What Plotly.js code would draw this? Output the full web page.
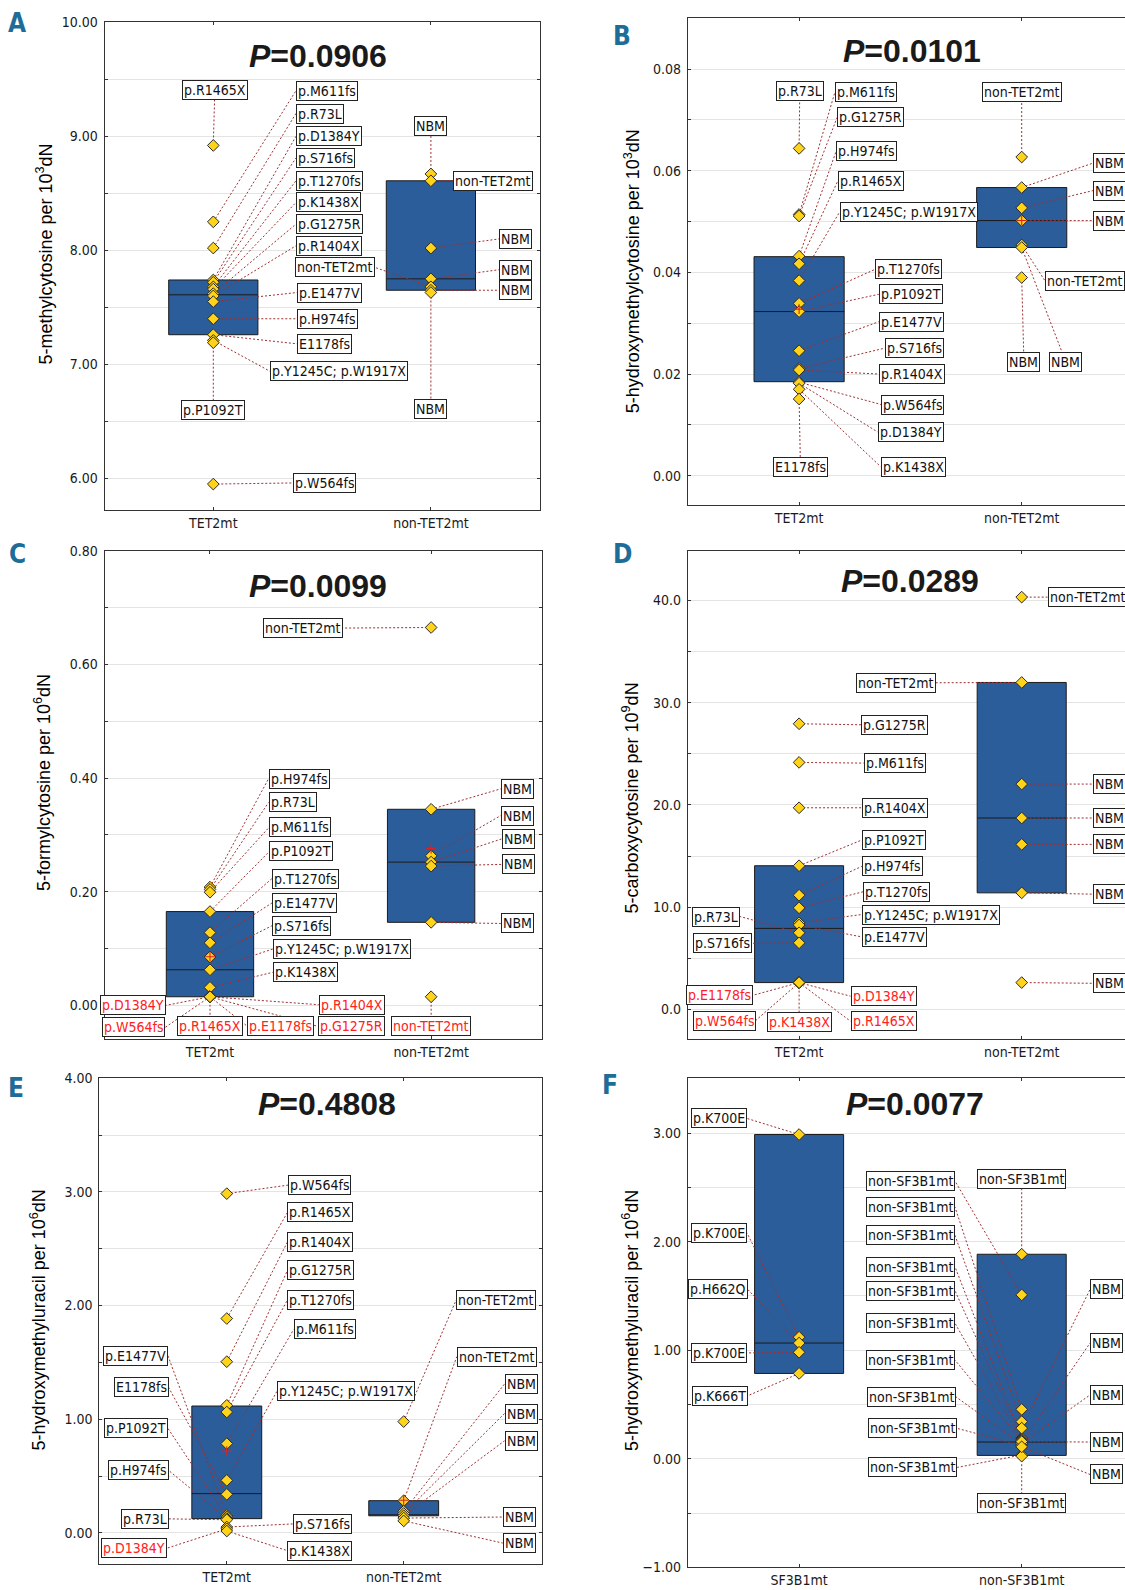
<!DOCTYPE html>
<html><head><meta charset="utf-8">
<script src="https://cdn.plot.ly/plotly-3.0.1.min.js"></script>
<style>html,body{margin:0;padding:0;overflow:hidden;background:#fff;width:1125px;height:1590px}</style>
</head><body><div id="chart" style="width:1150px;height:1590px"></div>
<script>
// ---------------- DATA ----------------
// Panel A: 5-methylcytosine
const A_groups = ['TET2mt', 'non-TET2mt'];
const A_tet_names = ['p.R1465X','p.M611fs','p.R73L','p.D1384Y','p.S716fs','p.T1270fs','p.K1438X','p.G1275R','p.R1404X','p.E1477V','p.H974fs','E1178fs','p.Y1245C; p.W1917X','p.P1092T','p.W564fs'];
const A_tet_vals  = [8.92, 8.25, 8.02, 7.74, 7.72, 7.68, 7.66, 7.62, 7.60, 7.55, 7.40, 7.26, 7.21, 7.19, 5.95];
const A_non_names = ['NBM','non-TET2mt','NBM','NBM','non-TET2mt','NBM','NBM'];
const A_non_vals  = [8.67, 8.61, 8.02, 7.75, 7.68, 7.65, 7.63];
const A_q1 = [7.26, 7.65], A_med = [7.61, 7.75], A_q3 = [7.74, 8.61];
const A_title = 'P=0.0906';

// Panel B: 5-hydroxymethylcytosine
const B_groups = ['TET2mt', 'non-TET2mt'];
const B_tet_names = ['p.R73L','p.M611fs','p.G1275R','p.H974fs','p.R1465X','p.Y1245C; p.W1917X','p.T1270fs','p.P1092T','p.E1477V','p.S716fs','p.R1404X','p.W564fs','p.D1384Y','p.K1438X','E1178fs'];
const B_tet_vals  = [0.0644, 0.0514, 0.0511, 0.0432, 0.0417, 0.0384, 0.0339, 0.0323, 0.0246, 0.0211, 0.0208, 0.0184, 0.0182, 0.0170, 0.0151];
const B_non_names = ['non-TET2mt','NBM','NBM','NBM','non-TET2mt','NBM','NBM'];
const B_non_vals  = [0.0627, 0.0567, 0.0527, 0.0502, 0.0454, 0.0449, 0.0390];
const B_q1 = [0.0185, 0.0449], B_med = [0.0323, 0.0502], B_q3 = [0.0431, 0.0567];
const B_title = 'P=0.0101';

// Panel C: 5-formylcytosine
const C_groups = ['TET2mt', 'non-TET2mt'];
const C_tet_names = ['p.H974fs','p.R73L','p.M611fs','p.P1092T','p.T1270fs','p.E1477V','p.S716fs','p.Y1245C; p.W1917X','p.K1438X','p.D1384Y','p.W564fs','p.R1465X','p.E1178fs','p.G1275R','p.R1404X'];
const C_tet_vals  = [0.208, 0.204, 0.199, 0.165, 0.128, 0.110, 0.085, 0.0625, 0.0315, 0.015, 0.015, 0.015, 0.015, 0.015, 0.015];
const C_non_names = ['non-TET2mt','NBM','NBM','NBM','NBM','NBM','non-TET2mt'];
const C_non_vals  = [0.665, 0.345, 0.263, 0.252, 0.245, 0.146, 0.015];
const C_q1 = [0.015, 0.146], C_med = [0.0625, 0.252], C_q3 = [0.165, 0.345];
const C_title = 'P=0.0099';

// Panel D: 5-carboxycytosine
const D_groups = ['TET2mt', 'non-TET2mt'];
const D_tet_names = ['p.G1275R','p.M611fs','p.R1404X','p.P1092T','p.H974fs','p.T1270fs','p.Y1245C; p.W1917X','p.E1477V','p.R73L','p.S716fs','p.E1178fs','p.W564fs','p.K1438X','p.D1384Y','p.R1465X'];
const D_tet_vals  = [27.94, 24.16, 19.72, 14.05, 11.17, 9.93, 8.46, 8.25, 7.49, 6.51, 2.62, 2.62, 2.62, 2.62, 2.62];
const D_non_names = ['non-TET2mt','non-TET2mt','NBM','NBM','NBM','NBM','NBM'];
const D_non_vals  = [40.33, 31.98, 22.04, 18.72, 16.14, 11.40, 2.62];
const D_q1 = [2.62, 11.40], D_med = [7.92, 18.72], D_q3 = [14.05, 31.98];
const D_title = 'P=0.0289';

// Panel E: 5-hydroxymethyluracil (TET2)
const E_groups = ['TET2mt', 'non-TET2mt'];
const E_tet_names = ['p.W564fs','p.R1465X','p.R1404X','p.G1275R','p.T1270fs','p.M611fs','p.Y1245C; p.W1917X','E1178fs','p.E1477V','p.P1092T','p.H974fs','p.R73L','p.S716fs','p.D1384Y','p.K1438X'];
const E_tet_vals  = [2.985, 1.886, 1.506, 1.122, 1.063, 0.785, 0.462, 0.339, 0.154, 0.140, 0.125, 0.115, 0.051, 0.035, 0.016];
const E_non_names = ['non-TET2mt','non-TET2mt','NBM','NBM','NBM','NBM','NBM'];
const E_non_vals  = [0.979, 0.283, 0.190, 0.170, 0.150, 0.130, 0.105];
const E_q1 = [0.125, 0.150], E_med = [0.345, 0.150], E_q3 = [1.116, 0.283];
const E_title = 'P=0.4808';

// Panel F: 5-hydroxymethyluracil (SF3B1)
const F_groups = ['SF3B1mt', 'non-SF3B1mt'];
const F_sf_names = ['p.K700E','p.K700E','p.H662Q','p.K700E','p.K666T'];
const F_sf_vals  = [2.987, 1.120, 1.066, 0.981, 0.786];
const F_non_names = ['non-SF3B1mt','non-SF3B1mt','non-SF3B1mt','non-SF3B1mt','non-SF3B1mt','non-SF3B1mt','non-SF3B1mt','non-SF3B1mt','non-SF3B1mt','non-SF3B1mt','non-SF3B1mt','non-SF3B1mt','NBM','NBM','NBM','NBM','NBM'];
const F_non_vals  = [1.884, 1.510, 0.455, 0.342, 0.190, 0.180, 0.170, 0.165, 0.130, 0.121, 0.035, 0.024, 0.282, 0.150, 0.140, 0.158, 0.110];
const F_q1 = [0.786, 0.031], F_med = [1.066, 0.154], F_q3 = [2.987, 1.884];
const F_title = 'P=0.0077';

// ---------------- LABEL PLACEMENT (x in category units, y in axis units, anchor side, red flag) ----------------
const A_tet_lab = [[0.007,9.405,'c'],[0.38,9.40,'l'],[0.38,9.20,'l'],[0.38,9.00,'l'],[0.38,8.81,'l'],[0.38,8.61,'l'],[0.38,8.42,'l'],[0.38,8.23,'l'],[0.38,8.04,'l'],[0.385,7.63,'l'],[0.385,7.40,'l'],[0.385,7.18,'l'],[0.26,6.94,'l'],[0.0,6.60,'c'],[0.367,5.96,'l']];
const A_non_lab = [[1.0,9.09,'c'],[1.10,8.61,'l'],[1.313,8.10,'l'],[1.313,7.83,'l'],[0.743,7.85,'r'],[1.313,7.65,'l'],[1.0,6.61,'c']];
const B_tet_lab = [[0.003,0.0756,'c'],[0.161,0.0755,'l'],[0.171,0.0705,'l'],[0.166,0.0638,'l'],[0.174,0.058,'l'],[0.182,0.0519,'l'],[0.341,0.0406,'l'],[0.358,0.0357,'l'],[0.358,0.0303,'l'],[0.385,0.0251,'l'],[0.361,0.0200,'l'],[0.369,0.0140,'l'],[0.353,0.0086,'l'],[0.366,0.0018,'l'],[0.006,0.0018,'c']];
const B_non_lab = [[1.0,0.0755,'c'],[1.32,0.0615,'l'],[1.32,0.0561,'l'],[1.32,0.0502,'l'],[1.104,0.0384,'l'],[1.198,0.0224,'c'],[1.01,0.0224,'c']];
const C_tet_lab = [[0.265,0.399,'l'],[0.265,0.357,'l'],[0.269,0.314,'l'],[0.269,0.271,'l'],[0.28,0.223,'l'],[0.28,0.180,'l'],[0.28,0.140,'l'],[0.284,0.099,'l'],[0.284,0.058,'l'],[-0.198,0.0,'r',1],[-0.203,-0.039,'r',1],[0.0,-0.037,'c',1],[0.169,-0.037,'l',1],[0.487,-0.037,'l',1],[0.492,0.001,'l',1]];
const C_non_lab = [[0.6,0.664,'r'],[1.315,0.381,'l'],[1.315,0.334,'l'],[1.32,0.293,'l'],[1.32,0.248,'l'],[1.315,0.144,'l'],[1.0,-0.037,'c',1]];
const D_tet_lab = [[0.279,27.84,'l'],[0.29,24.09,'l'],[0.282,19.72,'l'],[0.282,16.57,'l'],[0.282,13.99,'l'],[0.287,11.5,'l'],[0.282,9.28,'l'],[0.282,7.09,'l'],[-0.265,9.08,'r'],[-0.213,6.46,'r'],[-0.205,1.39,'r',1],[-0.195,-1.09,'r',1],[0.0,-1.26,'c',1],[0.231,1.29,'l',1],[0.231,-1.16,'l',1]];
const D_non_lab = [[1.116,40.33,'l'],[0.615,31.95,'r'],[1.322,22.04,'l'],[1.322,18.72,'l'],[1.322,16.14,'l'],[1.322,11.27,'l'],[1.322,2.55,'l']];
const E_tet_lab = [[0.347,3.06,'l'],[0.343,2.82,'l'],[0.343,2.56,'l'],[0.343,2.31,'l'],[0.343,2.05,'l'],[0.378,1.79,'l'],[0.283,1.244,'l'],[-0.329,1.28,'r'],[-0.333,1.56,'r'],[-0.333,0.92,'r'],[-0.329,0.55,'r'],[-0.329,0.123,'r'],[0.372,0.078,'l'],[-0.34,-0.136,'r',1],[0.343,-0.157,'l']];
const E_non_lab = [[1.297,2.05,'l'],[1.30,1.55,'l'],[1.57,1.31,'l'],[1.57,1.05,'l'],[1.57,0.81,'l'],[1.56,0.139,'l'],[1.56,-0.09,'l']];
const F_sf_lab = [[-0.234,3.135,'r'],[-0.234,2.08,'r'],[-0.231,1.56,'r'],[-0.234,0.975,'r'],[-0.231,0.58,'r']];
const F_non_lab = [[1.0,2.58,'c'],[0.70,2.56,'r'],[0.70,2.32,'r'],[0.70,2.06,'r'],[0.70,1.77,'r'],[0.70,1.55,'r'],[0.70,1.25,'r'],[0.70,0.91,'r'],[0.705,0.57,'r'],[0.71,0.28,'r'],[0.71,-0.08,'r'],[1.0,-0.41,'c'],[1.307,1.56,'l'],[1.307,1.066,'l'],[1.307,0.588,'l'],[1.307,0.154,'l'],[1.307,-0.145,'l']];

// ---------------- LAYOUT / STYLE ----------------
const W = 1150, H = 1590;
const LF = '"DejaVu Sans Condensed", "Liberation Sans Narrow", "DejaVu Sans", sans-serif';
const panels = [
  {id:1, xd:[104.5,539.7], yd:[22.3,510.3], xr:[-0.5,1.5], yr:[5.72,10.0], dtick:1, minor:0.5, fmt:'.2f', boxw:0.41,
   groups:A_groups, series:[[A_tet_names,A_tet_vals,A_tet_lab],[A_non_names,A_non_vals,A_non_lab]], q1:A_q1, med:A_med, q3:A_q3,
   title:A_title, tpos:[318,55.8], ytitle:'5-methylcytosine per 10<sup>3</sup>dN', ypos:[45.5,254], letter:'A', lpos:[16.7,23], mean:false},
  {id:2, xd:[687.8,1133], yd:[18.3,505.2], xr:[-0.5,1.5], yr:[-0.0058,0.090], dtick:0.02, minor:0.01, fmt:'.2f', boxw:0.405,
   groups:B_groups, series:[[B_tet_names,B_tet_vals,B_tet_lab],[B_non_names,B_non_vals,B_non_lab]], q1:B_q1, med:B_med, q3:B_q3,
   title:B_title, tpos:[911.8,50.7], ytitle:'5-hydroxymethylcytosine per 10<sup>3</sup>dN', ypos:[632,271.3], letter:'B', lpos:[621.6,35.5], mean:true},
  {id:3, xd:[104.5,541.7], yd:[550.8,1038.8], xr:[-0.477,1.5], yr:[-0.059,0.80], dtick:0.2, minor:0.1, fmt:'.2f', boxw:0.395,
   groups:C_groups, series:[[C_tet_names,C_tet_vals,C_tet_lab],[C_non_names,C_non_vals,C_non_lab]], q1:C_q1, med:C_med, q3:C_q3,
   title:C_title, tpos:[318,585.8], ytitle:'5-formylcytosine per 10<sup>6</sup>dN', ypos:[42,783], letter:'C', lpos:[17,553.7], mean:true},
  {id:4, xd:[687.8,1133], yd:[550.8,1038.8], xr:[-0.5,1.5], yr:[-2.88,44.86], dtick:10, minor:5, fmt:'.1f', boxw:0.40,
   groups:D_groups, series:[[D_tet_names,D_tet_vals,D_tet_lab],[D_non_names,D_non_vals,D_non_lab]], q1:D_q1, med:D_med, q3:D_q3,
   title:D_title, tpos:[910,580.7], ytitle:'5-carboxycytosine per 10<sup>9</sup>dN', ypos:[630.5,798], letter:'D', lpos:[622,554], mean:false},
  {id:5, xd:[99.4,541.7], yd:[1078.3,1564.2], xr:[-0.72,1.78], yr:[-0.276,4.0], dtick:1, minor:0.5, fmt:'.2f', boxw:0.395,
   groups:E_groups, series:[[E_tet_names,E_tet_vals,E_tet_lab],[E_non_names,E_non_vals,E_non_lab]], q1:E_q1, med:E_med, q3:E_q3,
   title:E_title, tpos:[326.8,1104], ytitle:'5-hydroxymethyluracil per 10<sup>6</sup>dN', ypos:[38,1320.4], letter:'E', lpos:[16.4,1088], mean:true},
  {id:6, xd:[687.8,1133], yd:[1078.3,1567.3], xr:[-0.5,1.5], yr:[-1.0,3.505], dtick:1, minor:0.5, fmt:'.2f', boxw:0.40,
   groups:F_groups, series:[[F_sf_names,F_sf_vals,F_sf_lab],[F_non_names,F_non_vals,F_non_lab]], q1:F_q1, med:F_med, q3:F_q3,
   title:F_title, tpos:[915.3,1104], ytitle:'5-hydroxymethyluracil per 10<sup>6</sup>dN', ypos:[630.5,1320.4], letter:'F', lpos:[609.5,1084.6], mean:false}
];

const traces = [];
const layout = {width:W, height:H, margin:{l:0,r:0,t:0,b:0}, paper_bgcolor:'#fff', plot_bgcolor:'#fff', showlegend:false, annotations:[]};

panels.forEach(p => {
  const s = p.id === 1 ? '' : String(p.id);
  const xa = 'x' + s, ya = 'y' + s;
  layout['xaxis' + s] = {domain:[p.xd[0]/W, p.xd[1]/W], range:p.xr, anchor:ya, tickmode:'array', tickvals:[0,1], ticktext:p.groups,
    ticks:'inside', ticklen:3, tickcolor:'#333', showgrid:false, zeroline:false, showline:true, linecolor:'#333', linewidth:1,
    mirror:'ticks', tickfont:{family:LF, size:14, color:'#1a1a1a'}, fixedrange:true};
  layout['yaxis' + s] = {domain:[1 - p.yd[1]/H, 1 - p.yd[0]/H], range:p.yr, anchor:xa, tick0:0, dtick:p.dtick, tickformat:p.fmt,
    ticks:'inside', ticklen:3, tickcolor:'#333', showgrid:true, gridcolor:'#e4e4e4', gridwidth:1, zeroline:false, showline:true,
    linecolor:'#333', linewidth:1, mirror:'ticks', tickfont:{family:LF, size:14, color:'#1a1a1a'}, ticklabelstandoff:3,
    minor:{tick0:0, dtick:p.minor, showgrid:true, gridcolor:'#e4e4e4', ticks:'inside', ticklen:3, tickcolor:'#333'}, fixedrange:true};

  traces.push({type:'box', xaxis:xa, yaxis:ya, x:[0,1], q1:p.q1, median:p.med, q3:p.q3, lowerfence:p.q1, upperfence:p.q3,
    width:p.boxw, fillcolor:'#2b5d9b', line:{color:'#1b1b1b', width:1}, whiskerwidth:0, boxpoints:false, hoverinfo:'skip'});

  const lx = [], ly = [], mx = [], my = [];
  p.series.forEach((ser, g) => {
    ser[1].forEach((v, i) => {
      const L = ser[2][i];
      lx.push(g, L[0], null); ly.push(v, L[1], null);
      mx.push(g); my.push(v);
      layout.annotations.push({xref:xa, yref:ya, x:L[0], y:L[1], text:ser[0][i], showarrow:false,
        xanchor: L[2] === 'l' ? 'left' : (L[2] === 'r' ? 'right' : 'center'), yanchor:'middle',
        font:{family:LF, size:14, color: L[3] ? '#ff2020' : '#111'}, bgcolor:'#fff', bordercolor:'#222', borderwidth:1, borderpad:1});
    });
  });
  traces.push({type:'scatter', mode:'lines', xaxis:xa, yaxis:ya, x:lx, y:ly, line:{color:'#9e3030', width:1, dash:'2px,2px'}, hoverinfo:'skip', connectgaps:false});
  traces.push({type:'scatter', mode:'markers', xaxis:xa, yaxis:ya, x:mx, y:my,
    marker:{symbol:'diamond', size:9, color:'#ffd31a', line:{color:'#2a2a2a', width:1}}, hoverinfo:'skip'});
  if (p.mean) {
    const means = p.series.map(ser => ser[1].reduce((a, b) => a + b, 0) / ser[1].length);
    traces.push({type:'scatter', mode:'markers', xaxis:xa, yaxis:ya, x:[0,1], y:means,
      marker:{symbol:'cross-thin', size:7, color:'#e02020', line:{color:'#e02020', width:1.1}}, hoverinfo:'skip'});
  }
  const parts = p.title.split('=');
  layout.annotations.push({xref:'paper', yref:'paper', x:p.tpos[0]/W, y:1 - p.tpos[1]/H, xanchor:'center', yanchor:'middle', showarrow:false,
    text:'<b><i>' + parts[0] + '</i>=' + parts[1] + '</b>', font:{family:'"Liberation Sans", Arial, sans-serif', size:32, color:'#1a1a1a'}});
  layout.annotations.push({xref:'paper', yref:'paper', x:p.ypos[0]/W, y:1 - p.ypos[1]/H, xanchor:'center', yanchor:'middle', showarrow:false,
    textangle:-90, text:p.ytitle, font:{family:'"Liberation Sans", Arial, sans-serif', size:18, color:'#000'}});
  layout.annotations.push({xref:'paper', yref:'paper', x:p.lpos[0]/W, y:1 - p.lpos[1]/H, xanchor:'center', yanchor:'middle', showarrow:false,
    text:'<b>' + p.letter + '</b>', font:{family:'"Liberation Sans Narrow", "DejaVu Sans Condensed", "Liberation Sans", sans-serif', size:26, color:'#1e6d99'}});
});

Plotly.newPlot('chart', traces, layout, {staticPlot:true, displayModeBar:false});
</script></body></html>
